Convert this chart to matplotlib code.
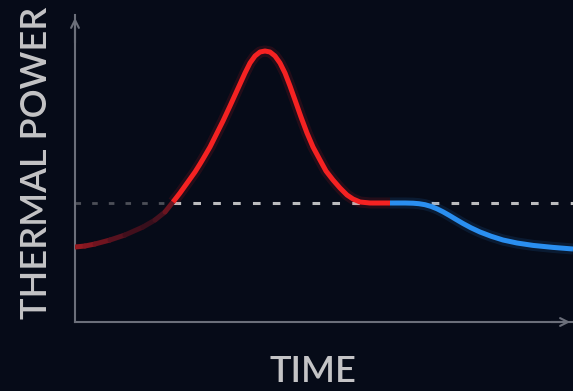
import matplotlib.pyplot as plt
import numpy as np
from matplotlib.collections import LineCollection

# arbitrary units: time 0..498, power 0..307
fade_t = [0, 10, 20, 35, 50, 68, 80, 90, 98]
fade_p = [75, 76, 78, 82, 87, 95, 102, 110, 120]

red_t = [98, 105, 110, 115, 120, 125, 128, 135, 142, 148, 155, 160, 165, 170, 175, 180, 185, 190,
         195, 200, 205, 210, 215, 220, 226, 232, 238, 245, 251, 258, 265, 272, 278, 285, 295, 315]
red_p = [120, 129, 136, 143, 150, 158, 163, 175, 189, 201, 216, 227, 238, 249, 259, 266, 270, 271,
         270, 266, 259, 249, 236, 222, 205, 189, 175, 162, 151, 142, 134, 127, 123, 120, 119, 119]

blue_t = [315, 330, 338, 344, 350, 356, 362, 368, 374, 381, 388, 396, 405, 416, 428, 442, 458, 478, 498]
blue_p = [119, 119, 118.8, 118.3, 117.3, 115.6, 113.2, 110.2, 106.8, 102.6, 98.5, 94.2, 90, 85.8, 82, 79, 76.6, 74.6, 73]

ref_level = 119
split_t = 98

bg = '#060b18'
axis_col = '#6b6f7a'
text_col = '#c4c4c6'

fig = plt.figure(figsize=(5.73, 3.91), dpi=100, facecolor=bg)
ax = fig.add_axes([75 / 573, 69 / 391, 498 / 573, 307 / 391])
ax.set_facecolor(bg)
ax.set_xlim(0, 498)
ax.set_ylim(0, 307)

for s in ['top', 'right']:
    ax.spines[s].set_visible(False)
for s in ['left', 'bottom']:
    ax.spines[s].set_color(axis_col)
    ax.spines[s].set_linewidth(1.5)
ax.set_xticks([])
ax.set_yticks([])

# arrows on axes
ax.annotate('', xy=(0, 1.0), xytext=(0, 0.9), xycoords='axes fraction',
            arrowprops=dict(arrowstyle='->', color=axis_col, lw=1.5, mutation_scale=14),
            annotation_clip=False)
ax.annotate('', xy=(1.0, 0), xytext=(0.95, 0), xycoords='axes fraction',
            arrowprops=dict(arrowstyle='->', color=axis_col, lw=1.5, mutation_scale=14),
            annotation_clip=False)

# reference level (dashed)
ax.plot([0, split_t], [ref_level, ref_level], color='#d0d0d0', alpha=0.35,
        lw=2, linestyle=(0, (2, 4)), zorder=2)
ax.plot([split_t, 498], [ref_level, ref_level], color='#dcdcdc', alpha=0.85,
        lw=2.2, linestyle=(0, (2.5, 4)), zorder=2)

# fading start segment
ft = np.array(fade_t, dtype=float)
fp = np.array(fade_p, dtype=float)
pts = np.column_stack([ft, fp]).reshape(-1, 1, 2)
segs = np.concatenate([pts[:-1], pts[1:]], axis=1)
seg_cols = [(0.58, 0.10, 0.13), (0.52, 0.09, 0.13), (0.44, 0.08, 0.12), (0.34, 0.07, 0.12),
            (0.26, 0.06, 0.11), (0.22, 0.06, 0.11), (0.28, 0.07, 0.12), (0.42, 0.08, 0.12)]
lc = LineCollection(segs, colors=seg_cols, linewidths=3.6, capstyle='round', zorder=3)
ax.add_collection(lc)

# glow + main curves
ax.plot(red_t, red_p, color='#ff2222', lw=8, alpha=0.12, solid_capstyle='butt', zorder=3)
ax.plot(red_t, red_p, color='#f52222', lw=3.6, solid_joinstyle='round', solid_capstyle='butt', zorder=4)
ax.plot(blue_t, blue_p, color='#2a8ff0', lw=8, alpha=0.12, solid_capstyle='butt', zorder=3)
ax.plot(blue_t, blue_p, color='#2a8ff0', lw=3.6, solid_joinstyle='round', solid_capstyle='butt', zorder=4)

fig.text(313 / 573, 1 - 371 / 391, 'TIME', color=text_col, fontsize=26,
         family='Lato', fontweight='semibold', ha='center', va='center')
fig.text(37 / 573, 1 - 163 / 391, 'THERMAL POWER', color=text_col, fontsize=26,
         family='Lato', fontweight='semibold', ha='center', va='center', rotation=90)

plt.savefig('out.png', dpi=100, facecolor=bg)
